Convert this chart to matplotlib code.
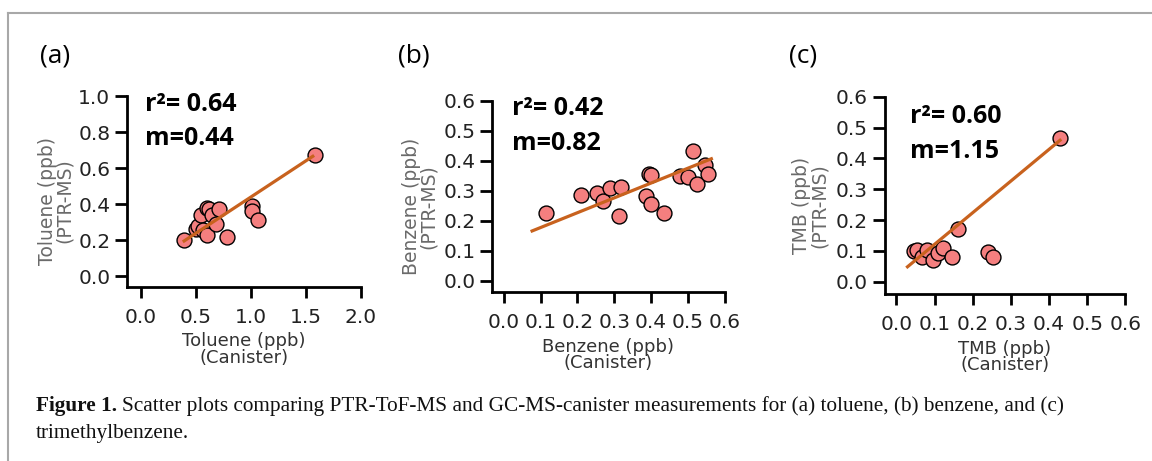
import numpy as np
import matplotlib
matplotlib.use("Agg")
import matplotlib.pyplot as plt
from matplotlib.lines import Line2D

# (a) toluene
tol_can = [0.39, 0.50, 0.525, 0.55, 0.57, 0.60, 0.60, 0.62, 0.65, 0.68, 0.71, 0.78, 1.01, 1.01, 1.07, 1.58]
tol_ptr = [0.20, 0.26, 0.28, 0.34, 0.255, 0.23, 0.38, 0.375, 0.34, 0.29, 0.37, 0.215, 0.39, 0.36, 0.31, 0.675]
tol_fit_x = [0.383, 1.575]
tol_fit_y = [0.19, 0.67]

# (b) benzene
ben_can = [0.115, 0.21, 0.252, 0.27, 0.288, 0.317, 0.314, 0.387, 0.399, 0.394, 0.40, 0.435,
           0.479, 0.50, 0.515, 0.524, 0.548, 0.555]
ben_ptr = [0.227, 0.286, 0.292, 0.267, 0.308, 0.312, 0.216, 0.284, 0.256, 0.356, 0.353, 0.227,
           0.351, 0.347, 0.433, 0.323, 0.386, 0.356]
ben_fit_x = [0.0725, 0.568]
ben_fit_y = [0.164, 0.409]

# (c) trimethylbenzene
tmb_can = [0.045, 0.053, 0.067, 0.080, 0.097, 0.11, 0.123, 0.145, 0.162, 0.241, 0.254, 0.428]
tmb_ptr = [0.100, 0.103, 0.079, 0.103, 0.070, 0.093, 0.108, 0.081, 0.170, 0.097, 0.079, 0.465]
tmb_fit_x = [0.026, 0.432]
tmb_fit_y = [0.045, 0.462]

panels = [
    dict(x=tol_can, y=tol_ptr, fx=tol_fit_x, fy=tol_fit_y, name="Toluene",
         r2="0.64", m="0.44", xt=[0.0, 0.5, 1.0, 1.5, 2.0], yt=[0.0, 0.2, 0.4, 0.6, 0.8, 1.0],
         xlim=(-0.124, 2.0), ylim=(-0.061, 1.0), pos=[0.1102, 0.3774, 0.2031, 0.4143],
         txt=(0.077, 0.921, 0.743), tag="(a)", tagx=40, ylx=-0.225),
    dict(x=ben_can, y=ben_ptr, fx=ben_fit_x, fy=ben_fit_y, name="Benzene",
         r2="0.42", m="0.82", xt=[0.0, 0.1, 0.2, 0.3, 0.4, 0.5, 0.6], yt=[0.0, 0.1, 0.2, 0.3, 0.4, 0.5, 0.6],
         xlim=(-0.0318, 0.6), ylim=(-0.0387, 0.6), pos=[0.4273, 0.366, 0.2017, 0.415],
         txt=(0.086, 0.927, 0.744), tag="(b)", tagx=398, ylx=-0.232),
    dict(x=tmb_can, y=tmb_ptr, fx=tmb_fit_x, fy=tmb_fit_y, name="TMB",
         r2="0.60", m="1.15", xt=[0.0, 0.1, 0.2, 0.3, 0.4, 0.5, 0.6], yt=[0.0, 0.1, 0.2, 0.3, 0.4, 0.5, 0.6],
         xlim=(-0.0304, 0.6), ylim=(-0.0409, 0.6), pos=[0.768, 0.3616, 0.2089, 0.4286],
         txt=(0.104, 0.868, 0.688), tag="(c)", tagx=789, ylx=-0.232),
]

W, H = 1152, 461
fig = plt.figure(figsize=(W / 100, H / 100), dpi=100)

for p in panels:
    ax = fig.add_axes(p["pos"])
    ax.scatter(p["x"], p["y"], s=115, facecolor="#f47f7f", edgecolor="black", linewidth=1.0, zorder=2)
    ax.plot(p["fx"], p["fy"], color="#c8621e", lw=2.3, solid_capstyle="butt", zorder=3)
    ax.set_xlim(p["xlim"])
    ax.set_ylim(p["ylim"])
    ax.set_xticks(p["xt"])
    ax.set_yticks(p["yt"])
    ax.set_xticklabels(["%.1f" % v for v in p["xt"]])
    ax.set_yticklabels(["%.1f" % v for v in p["yt"]])
    for s in ["top", "right"]:
        ax.spines[s].set_visible(False)
    for s in ["left", "bottom"]:
        ax.spines[s].set_linewidth(2.0)
    ax.tick_params(axis="x", length=8, width=2.0, pad=7, labelsize=14.5, labelcolor="#222222")
    ax.tick_params(axis="y", length=9, width=2.0, pad=3, labelsize=14.5, labelcolor="#222222")
    ax.set_xlabel(p["name"] + " (ppb)\n(Canister)", fontsize=13, color="#333333", linespacing=0.9)
    ax.set_ylabel(p["name"] + " (ppb)\n(PTR-MS)", fontsize=13.5, color="#6a6a6a", linespacing=0.9)
    ax.yaxis.set_label_coords(p["ylx"], 0.45)
    ax.text(p["txt"][0], p["txt"][1], "r\u00b2= " + p["r2"], transform=ax.transAxes,
            fontsize=18, fontweight="bold", family="Open Sans", va="baseline")
    ax.text(p["txt"][0], p["txt"][2], "m=" + p["m"], transform=ax.transAxes,
            fontsize=18, fontweight="bold", family="Open Sans", va="baseline")
    fig.text(p["tagx"] / W, 1 - 62 / H, p["tag"], fontsize=19, family="Open Sans", va="baseline")

# frame lines
fig.add_artist(Line2D([8 / W, 1.0], [1 - 13 / H, 1 - 13 / H], color="#a8a8a8", lw=1.5))
fig.add_artist(Line2D([8 / W, 8 / W], [0.0, 1 - 13 / H], color="#a8a8a8", lw=1.5))

# caption
renderer = fig.canvas.get_renderer()
t1 = fig.text(36 / W, 1 - 411 / H, "Figure 1.", fontsize=15.3, fontweight="bold",
              family="Liberation Serif", va="baseline", color="#111111")
bb = t1.get_window_extent(renderer)
fig.text((bb.x1 + 5) / W, 1 - 411 / H,
         "Scatter plots comparing PTR-ToF-MS and GC-MS-canister measurements for (a) toluene, (b) benzene, and (c)",
         fontsize=15.3, family="Liberation Serif", va="baseline", color="#111111")
fig.text(36 / W, 1 - 438 / H, "trimethylbenzene.", fontsize=15.3, family="Liberation Serif",
         va="baseline", color="#111111")

fig.savefig("out.png", dpi=100)
